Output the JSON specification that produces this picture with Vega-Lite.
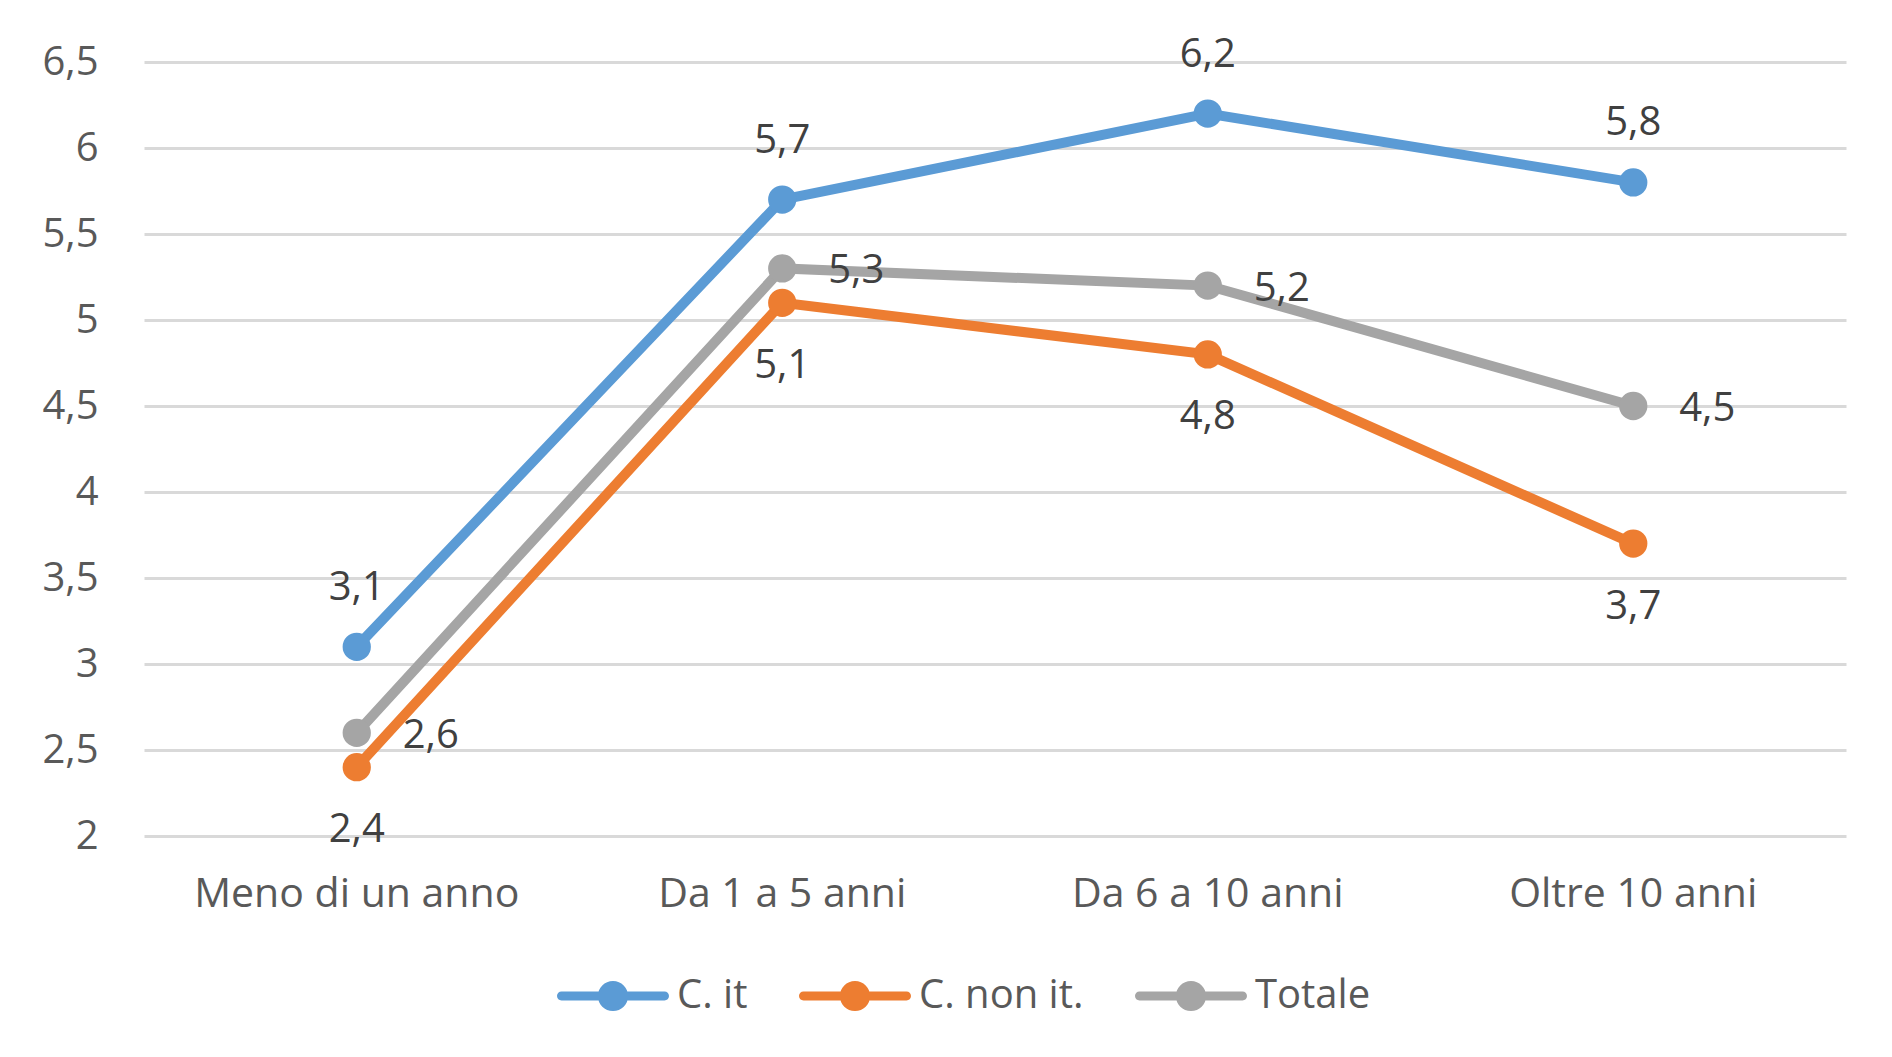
{
  "$schema": "https://vega.github.io/schema/vega-lite/v6.json",
  "width": 1702,
  "height": 774,
  "autosize": {"type": "none"},
  "padding": {"left": 144, "top": 62, "right": 46, "bottom": 221},
  "background": "white",
  "config": {
    "view": {"stroke": null},
    "font": "Open Sans",
    "locale": {"number": {"decimal": ",", "thousands": ".", "grouping": [3], "currency": ["€", ""]}}
  },
  "data": {
    "values": [
      {"periodo": "Meno di un anno", "serie": "C. it", "valore": 3.1},
      {"periodo": "Da 1 a 5 anni", "serie": "C. it", "valore": 5.7},
      {"periodo": "Da 6 a 10 anni", "serie": "C. it", "valore": 6.2},
      {"periodo": "Oltre 10 anni", "serie": "C. it", "valore": 5.8},
      {"periodo": "Meno di un anno", "serie": "C. non it.", "valore": 2.4},
      {"periodo": "Da 1 a 5 anni", "serie": "C. non it.", "valore": 5.1},
      {"periodo": "Da 6 a 10 anni", "serie": "C. non it.", "valore": 4.8},
      {"periodo": "Oltre 10 anni", "serie": "C. non it.", "valore": 3.7},
      {"periodo": "Meno di un anno", "serie": "Totale", "valore": 2.6},
      {"periodo": "Da 1 a 5 anni", "serie": "Totale", "valore": 5.3},
      {"periodo": "Da 6 a 10 anni", "serie": "Totale", "valore": 5.2},
      {"periodo": "Oltre 10 anni", "serie": "Totale", "valore": 4.5}
    ]
  },
  "encoding": {
    "x": {
      "field": "periodo", "type": "nominal", "sort": null,
      "scale": {"type": "band", "paddingInner": 0, "paddingOuter": 0},
      "axis": {
        "title": null, "domain": false, "ticks": false, "labelAngle": 0, "labelLimit": 0,
        "labelFont": "Open Sans", "labelFontSize": 41, "labelColor": "#595959",
        "labelPadding": 38, "labelBaseline": "top"
      }
    },
    "y": {
      "field": "valore", "type": "quantitative",
      "scale": {"domain": [2, 6.5], "nice": false, "zero": false},
      "axis": {
        "title": null, "domain": false, "ticks": false,
        "values": [2, 2.5, 3, 3.5, 4, 4.5, 5, 5.5, 6, 6.5],
        "format": ".1~f",
        "labelFont": "Open Sans", "labelFontSize": 40, "labelColor": "#595959",
        "labelPadding": 46,
        "gridColor": "#D9D9D9", "gridWidth": 3
      }
    },
    "color": {
      "field": "serie", "type": "nominal",
      "scale": {"domain": ["C. it", "C. non it.", "Totale"], "range": ["#5B9BD5", "#ED7D31", "#A5A5A5"]},
      "legend": {
        "title": null, "orient": "none", "direction": "horizontal",
        "legendX": 413, "legendY": 878,
        "symbolType": "M-0.92,-0.08H0.92A0.08,0.08 0 0 1 0.92,0.08H-0.92A0.08,0.08 0 0 1 -0.92,-0.08Z M0.27,0A0.27,0.27 0 1 1 -0.27,0A0.27,0.27 0 1 1 0.27,0Z",
        "symbolSize": 12544, "symbolStrokeWidth": 0,
        "labelFont": "Open Sans", "labelFontSize": 40, "labelColor": "#595959", "labelLimit": 0,
        "labelOffset": 8, "columnPadding": 50,
        "encode": {"symbols": {"update": {"fill": {"scale": "color", "field": "value"}, "stroke": {"value": "transparent"}, "opacity": {"value": 1}}}}
      }
    }
  },
  "layer": [
    {"mark": {"type": "line", "strokeWidth": 10}},
    {"mark": {"type": "point", "filled": true, "size": 800, "opacity": 1}},
    {
      "transform": [{"filter": "datum.serie === 'C. it'"}],
      "mark": {"type": "text", "font": "Open Sans", "fontSize": 40, "align": "center", "baseline": "middle", "dy": -59},
      "encoding": {"text": {"field": "valore", "type": "quantitative", "format": ".1f"}, "color": {"value": "#404040"}}
    },
    {
      "transform": [{"filter": "datum.serie === 'C. non it.'"}],
      "mark": {"type": "text", "font": "Open Sans", "fontSize": 40, "align": "center", "baseline": "middle", "dy": 63},
      "encoding": {"text": {"field": "valore", "type": "quantitative", "format": ".1f"}, "color": {"value": "#404040"}}
    },
    {
      "transform": [{"filter": "datum.serie === 'Totale'"}],
      "mark": {"type": "text", "font": "Open Sans", "fontSize": 40, "align": "left", "baseline": "middle", "dx": 46, "dy": 3},
      "encoding": {"text": {"field": "valore", "type": "quantitative", "format": ".1f"}, "color": {"value": "#404040"}}
    }
  ]
}
